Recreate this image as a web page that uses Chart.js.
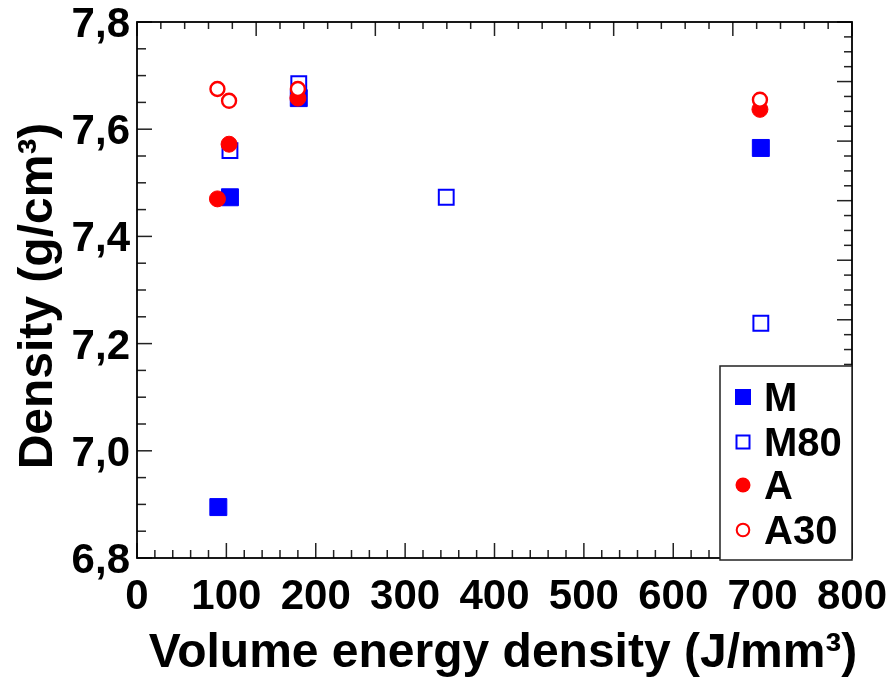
<!DOCTYPE html>
<html>
<head>
<meta charset="utf-8">
<script src="https://cdn.jsdelivr.net/npm/chart.js@4"></script>
<style>
  body { margin: 0; background: #fff; }
  #chart { display: block; }
</style>
</head>
<body>
<canvas id="chart" width="891" height="677"></canvas>
<script>
// values
const seriesNames = ['M', 'M80', 'A', 'A30'];

const mEnergy = [91, 104, 181, 698];
const mDensity = [6.895, 7.473, 7.658, 7.565];

const m80Energy = [104, 181, 346, 698];
const m80Density = [7.56, 7.685, 7.473, 7.238];

const aEnergy = [90, 103, 180, 697];
const aDensity = [7.47, 7.572, 7.658, 7.637];

const a30Energy = [90, 103, 180, 697];
const a30Density = [7.675, 7.653, 7.675, 7.655];

const xTickLabels = ['0', '100', '200', '300', '400', '500', '600', '700', '800'];
const yTickLabels = ['6,8', '7,0', '7,2', '7,4', '7,6', '7,8'];

const BLUE = '#0000ff';
const RED = '#ff0000';
const FONT = '"Liberation Sans", Arial, sans-serif';

function toPoints(xs, ys) {
  return xs.map((x, i) => ({ x: x, y: ys[i] }));
}

// draws ticks, labels, titles and the boxed legend round the plot
const framePlugin = {
  id: 'frame',
  afterDraw(chart) {
    const ctx = chart.ctx;
    const area = chart.chartArea;
    const x = chart.scales.x;
    const y = chart.scales.y;
    const x2 = chart.scales.x2;
    const y2 = chart.scales.y2;

    ctx.save();
    ctx.strokeStyle = '#222';
    ctx.lineWidth = 1.5;

    // bottom ticks, major every 100, minor every 20
    for (let v = 0; v <= 800; v += 20) {
      const px = x.getPixelForValue(v);
      const len = v % 100 === 0 ? 15 : 8;
      ctx.beginPath();
      ctx.moveTo(px, area.bottom);
      ctx.lineTo(px, area.bottom - len);
      ctx.stroke();
    }
    // left ticks, major every 0.2, minor every 0.05
    for (let i = 0; i <= 20; i++) {
      const py = y.getPixelForValue(6.8 + i * 0.05);
      const len = i % 4 === 0 ? 15 : 9;
      ctx.beginPath();
      ctx.moveTo(area.left, py);
      ctx.lineTo(area.left + len, py);
      ctx.stroke();
    }
    // top ticks (mirror axis has its own spacing)
    for (let i = 0; i <= 30; i++) {
      const px = x2.getPixelForValue(i * 0.2);
      const len = i % 5 === 0 ? 14 : 7;
      ctx.beginPath();
      ctx.moveTo(px, area.top);
      ctx.lineTo(px, area.top + len);
      ctx.stroke();
    }
    // right ticks
    for (let i = 0; i <= 36; i++) {
      const py = y2.getPixelForValue(i * 0.25);
      const len = i % 4 === 0 ? 15 : 8;
      ctx.beginPath();
      ctx.moveTo(area.right, py);
      ctx.lineTo(area.right - len, py);
      ctx.stroke();
    }

    // axis frame
    ctx.strokeStyle = '#000';
    ctx.lineWidth = 1.8;
    ctx.strokeRect(area.left, area.top, area.right - area.left, area.bottom - area.top);

    // tick labels
    ctx.fillStyle = '#000';
    ctx.font = 'bold 42px ' + FONT;
    ctx.textBaseline = 'alphabetic';
    ctx.textAlign = 'center';
    xTickLabels.forEach((lab) => {
      let px = x.getPixelForValue(Number(lab));
      const w = ctx.measureText(lab).width;
      if (px + w / 2 > chart.width - 3) px = chart.width - 3 - w / 2;
      ctx.fillText(lab, px, area.bottom + 51);
    });
    ctx.textAlign = 'right';
    yTickLabels.forEach((lab) => {
      const py = y.getPixelForValue(Number(lab.replace(',', '.')));
      ctx.fillText(lab, area.left - 7, py + 15);
    });

    // axis titles
    ctx.font = 'bold 48px ' + FONT;
    ctx.textAlign = 'center';
    ctx.fillText('Volume energy density (J/mm³)', 503, 667);

    ctx.save();
    ctx.translate(52, 296);
    ctx.rotate(-Math.PI / 2);
    ctx.font = 'bold 48px ' + FONT;
    ctx.fillText('Density (g/cm³)', 0, 0);
    ctx.restore();

    // legend box
    const lx = 720, ly = 366, lw = area.right - 720, lh = 194;
    ctx.fillStyle = '#fff';
    ctx.fillRect(lx, ly, lw, lh);
    ctx.strokeStyle = '#222';
    ctx.lineWidth = 1.5;
    ctx.strokeRect(lx, ly, lw, lh);

    const rows = [397, 442, 485, 530];
    const mx = 743;
    rows.forEach((ry, i) => {
      ctx.lineWidth = 2;
      if (i === 0) {
        ctx.fillStyle = BLUE;
        ctx.fillRect(mx - 8, ry - 8, 16, 16);
      } else if (i === 1) {
        ctx.strokeStyle = BLUE;
        ctx.strokeRect(mx - 6.5, ry - 6.5, 13, 13);
      } else if (i === 2) {
        ctx.fillStyle = RED;
        ctx.beginPath();
        ctx.arc(mx, ry, 7.5, 0, Math.PI * 2);
        ctx.fill();
      } else {
        ctx.strokeStyle = RED;
        ctx.beginPath();
        ctx.arc(mx, ry, 6.3, 0, Math.PI * 2);
        ctx.stroke();
      }
      ctx.fillStyle = '#000';
      ctx.font = 'bold 40px ' + FONT;
      ctx.textAlign = 'left';
      ctx.fillText(seriesNames[i], 764, ry + 14);
    });

    ctx.restore();
  },
};

const ctx = document.getElementById('chart').getContext('2d');
new Chart(ctx, {
  type: 'scatter',
  data: {
    datasets: [
      {
        label: seriesNames[0],
        data: toPoints(mEnergy, mDensity),
        pointStyle: 'rect',
        pointRadius: 12,
        backgroundColor: BLUE,
        borderColor: BLUE,
        borderWidth: 1,
        order: 4,
      },
      {
        label: seriesNames[1],
        data: toPoints(m80Energy, m80Density),
        pointStyle: 'rect',
        pointRadius: 10.5,
        backgroundColor: '#fff',
        borderColor: BLUE,
        borderWidth: 2,
        order: 3,
      },
      {
        label: seriesNames[2],
        data: toPoints(aEnergy, aDensity),
        pointStyle: 'circle',
        pointRadius: 8,
        backgroundColor: RED,
        borderColor: RED,
        borderWidth: 1,
        order: 2,
      },
      {
        label: seriesNames[3],
        data: toPoints(a30Energy, a30Density),
        pointStyle: 'circle',
        pointRadius: 7,
        backgroundColor: '#fff',
        borderColor: RED,
        borderWidth: 2.4,
        order: 1,
      },
    ],
  },
  options: {
    responsive: false,
    animation: false,
    events: [],
    layout: {
      padding: { left: 137, top: 22, right: 39, bottom: 119 },
    },
    plugins: {
      legend: { display: false },
      tooltip: { enabled: false },
    },
    scales: {
      x: { type: 'linear', min: 0, max: 800, display: false },
      y: { type: 'linear', min: 6.8, max: 7.8, display: false },
      // mirror axes on top and right have their own tick spacing
      x2: { type: 'linear', position: 'top', min: 0, max: 6, display: false },
      y2: { type: 'linear', position: 'right', min: 0, max: 9, display: false },
    },
  },
  plugins: [framePlugin],
});
</script>
</body>
</html>
